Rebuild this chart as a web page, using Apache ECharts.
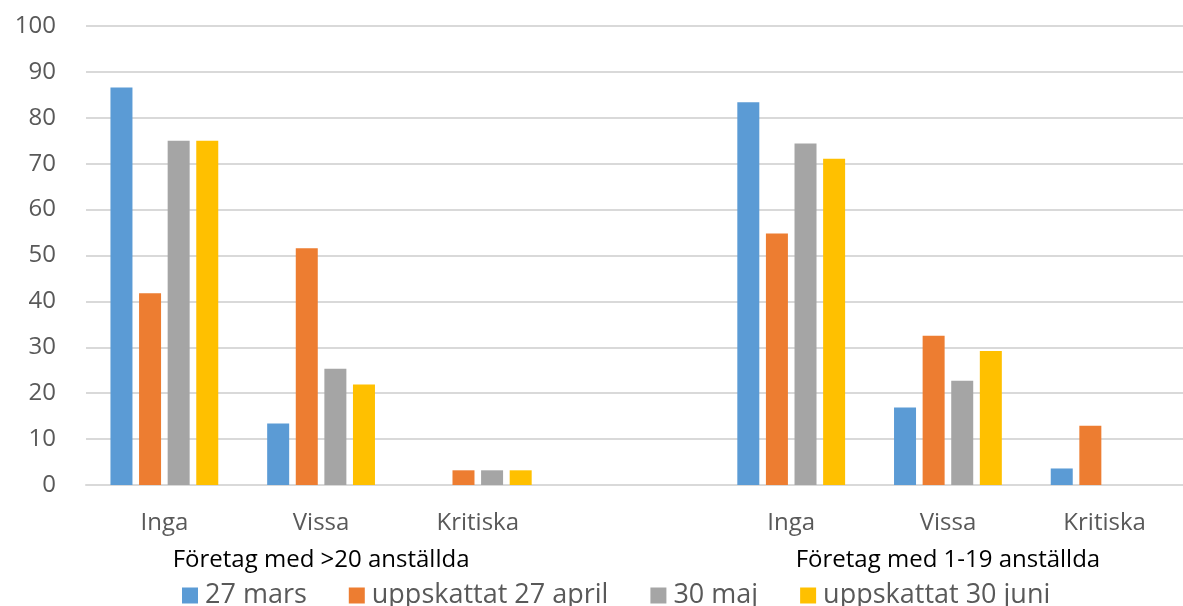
<!DOCTYPE html>
<html>
<head>
<meta charset="utf-8">
<script src="https://cdn.jsdelivr.net/npm/echarts@6/dist/echarts.min.js"></script>
<style>
html,body{margin:0;padding:0;background:#fff;}
#c{width:1183px;height:606px;}
</style>
</head>
<body>
<div id="c"></div>
<script>
const categories = ['Inga', 'Vissa', 'Kritiska', '', 'Inga', 'Vissa', 'Kritiska'];
const groupLabels = ['', 'Företag med >20 anställda', '', '', '', 'Företag med 1-19 anställda', ''];
const seriesNames = ['27 mars', 'uppskattat 27 april', '30 maj', 'uppskattat 30 juni'];
const mars27 = [86.6, 13.4, null, null, 83.4, 16.9, 3.6];
const april27 = [41.8, 51.6, 3.2, null, 54.8, 32.5, 12.9];
const maj30 = [75.0, 25.3, 3.2, null, 74.4, 22.7, null];
const juni30 = [75.0, 21.9, 3.2, null, 71.1, 29.2, null];
const seriesValues = [mars27, april27, maj30, juni30];
const colors = ['#5b9bd5', '#ed7d31', '#a5a5a5', '#ffc000'];
const yTicks = { min: 0, max: 100, interval: 10 };

const FONT = "'Open Sans', sans-serif";
const chart = echarts.init(document.getElementById('c'));
chart.setOption({
  animation: false,
  color: colors,
  grid: { left: 86, right: -9, top: 26, bottom: 121, containLabel: false },
  legend: {
    top: 577,
    left: 177,
    itemWidth: 16,
    itemHeight: 16,
    itemGap: 42,
    icon: 'rect',
    textStyle: { fontFamily: FONT, fontSize: 27, color: '#595959', padding: [0, 0, 0, 2] },
    data: seriesNames
  },
  xAxis: [{
    type: 'category',
    data: categories,
    axisLine: { show: true, lineStyle: { color: '#d9d9d9', width: 2 } },
    axisTick: { show: false },
    axisLabel: { interval: 0, margin: 26, fontFamily: FONT, fontSize: 24, color: '#595959' }
  }, {
    type: 'category',
    data: groupLabels,
    position: 'bottom',
    offset: 63,
    axisLine: { show: false },
    axisTick: { show: false },
    axisLabel: { interval: 0, margin: 0, fontFamily: FONT, fontSize: 24, color: '#000' }
  }],
  yAxis: {
    type: 'value',
    min: yTicks.min, max: yTicks.max, interval: yTicks.interval,
    axisLine: { show: false },
    axisTick: { show: false },
    splitLine: { lineStyle: { color: '#d9d9d9', width: 2 } },
    axisLabel: { margin: 30, fontFamily: FONT, fontSize: 24, color: '#595959' }
  },
  series: seriesValues.map((vals, i) => ({
    name: seriesNames[i],
    type: 'bar',
    xAxisIndex: 0,
    data: vals,
    barWidth: 22,
    barGap: '30%',
    itemStyle: { color: colors[i] }
  }))
});
</script>
</body>
</html>
